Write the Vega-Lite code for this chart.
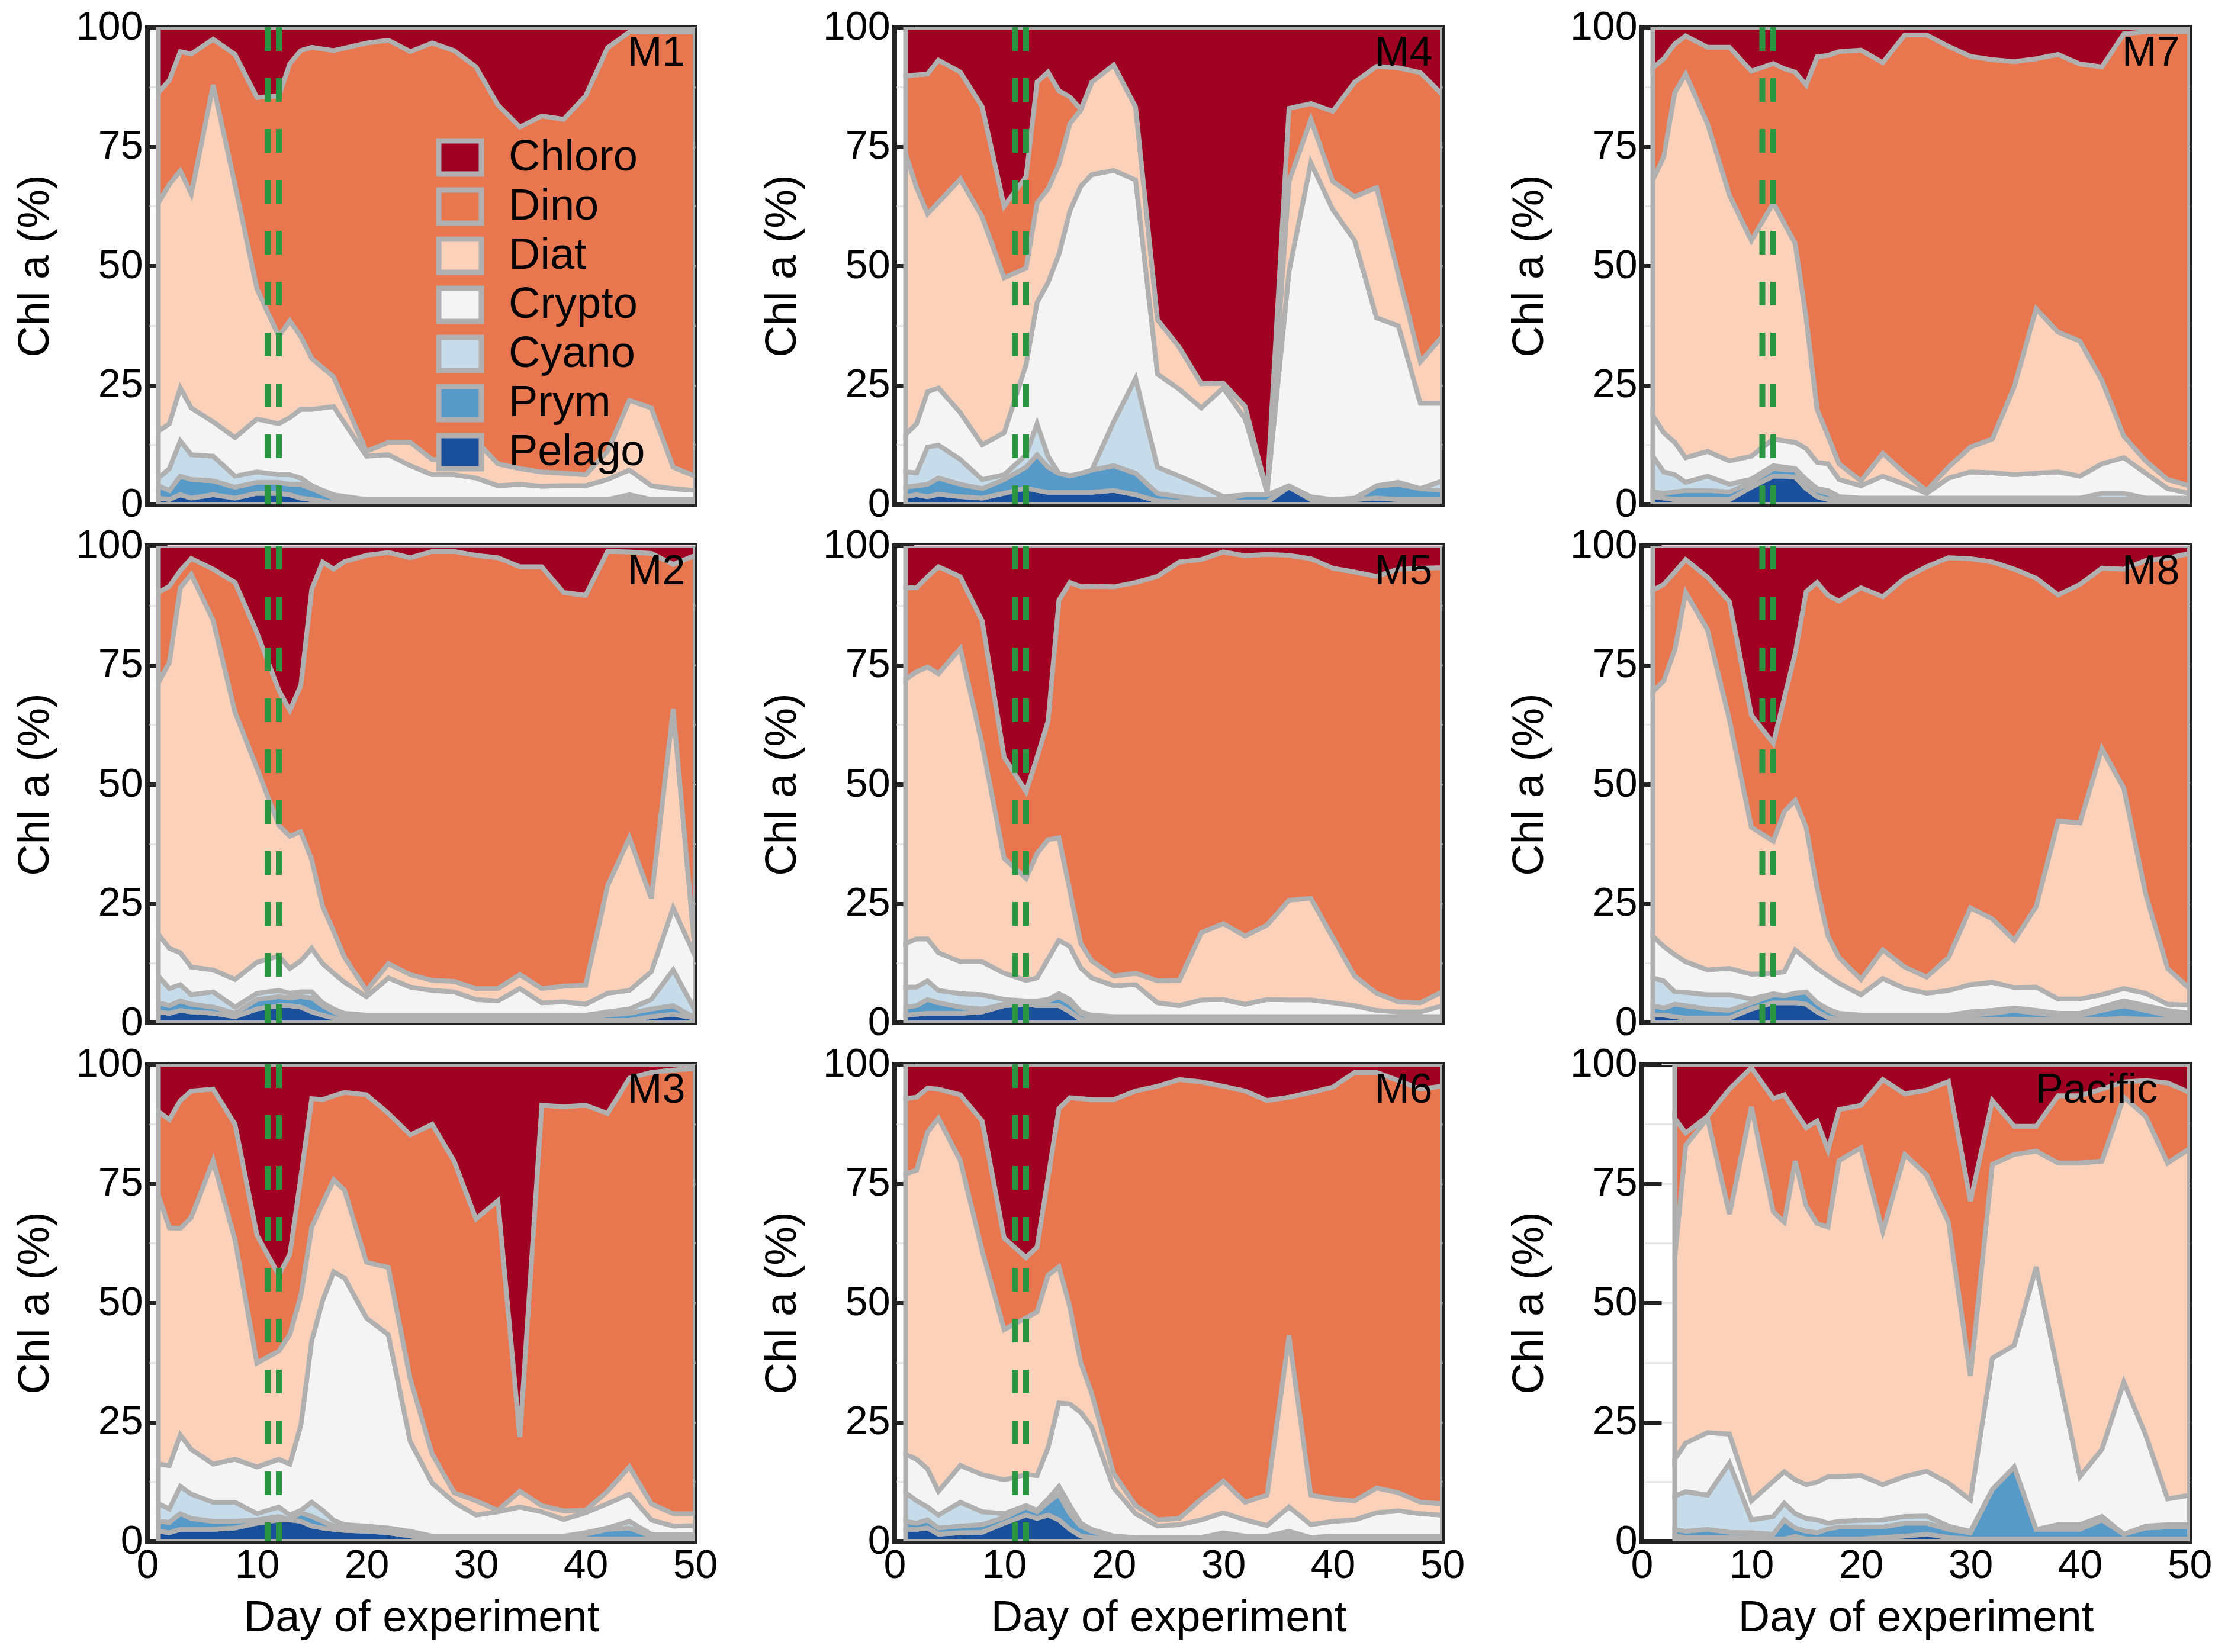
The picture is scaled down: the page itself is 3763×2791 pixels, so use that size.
{
"$schema":"https://vega.github.io/schema/vega-lite/v6.json",
"autosize":{"type":"pad"},
"padding":{"left":18,"top":8,"right":10,"bottom":10},
"background":"white",
"config":{
"font":"Liberation Sans",
"view":{"stroke":"#222222","strokeWidth":8},
"axis":{"labelFont":"Liberation Sans","titleFont":"Liberation Sans","labelColor":"#000000","titleColor":"#000000","labelFontSize":68,"titleFontSize":74,"titleFontWeight":"normal","domain":true,"domainColor":"#222222","domainWidth":6,"grid":false,"tickColor":"#222222","tickWidth":7,"tickSize":-33,"zindex":1,"labelFlush":false,"labelOverlap":false}
},
"datasets":{
"groups":[{"group":"Pelago","rank":1},{"group":"Prym","rank":2},{"group":"Cyano","rank":3},{"group":"Crypto","rank":4},{"group":"Diat","rank":5},{"group":"Dino","rank":6},{"group":"Chloro","rank":7}],
"chl":[
{"panel":"M1","day":1,"Pelago":1.3,"Prym":2.6,"Cyano":1.6,"Crypto":9.8,"Diat":47.9,"Dino":23.1,"Chloro":13.7},
{"panel":"M1","day":2,"Pelago":1.0,"Prym":1.9,"Cyano":4.6,"Crypto":9.4,"Diat":50.2,"Dino":21.8,"Chloro":11.1},
{"panel":"M1","day":3,"Pelago":2.0,"Prym":3.9,"Cyano":7.4,"Crypto":11.1,"Diat":45.5,"Dino":25.0,"Chloro":5.1},
{"panel":"M1","day":4,"Pelago":1.3,"Prym":3.9,"Cyano":5.2,"Crypto":9.8,"Diat":44.9,"Dino":29.3,"Chloro":5.6},
{"panel":"M1","day":6,"Pelago":2.0,"Prym":2.9,"Cyano":5.2,"Crypto":7.2,"Diat":70.6,"Dino":9.6,"Chloro":2.5},
{"panel":"M1","day":8,"Pelago":1.3,"Prym":2.3,"Cyano":2.3,"Crypto":8.1,"Diat":53.0,"Dino":27.3,"Chloro":5.7},
{"panel":"M1","day":10,"Pelago":2.3,"Prym":2.3,"Cyano":2.2,"Crypto":11.1,"Diat":27.3,"Dino":40.1,"Chloro":14.7},
{"panel":"M1","day":12,"Pelago":2.3,"Prym":2.3,"Cyano":1.6,"Crypto":10.7,"Diat":18.3,"Dino":50.4,"Chloro":14.4},
{"panel":"M1","day":13,"Pelago":2.0,"Prym":2.2,"Cyano":2.0,"Crypto":12.0,"Diat":20.3,"Dino":53.9,"Chloro":7.6},
{"panel":"M1","day":14,"Pelago":1.3,"Prym":2.9,"Cyano":1.3,"Crypto":14.4,"Diat":15.3,"Dino":59.9,"Chloro":4.9},
{"panel":"M1","day":15,"Pelago":1.0,"Prym":2.3,"Cyano":0.6,"Crypto":16.0,"Diat":10.7,"Dino":65.2,"Chloro":4.2},
{"panel":"M1","day":17,"Pelago":0.3,"Prym":1.0,"Cyano":0.7,"Crypto":18.5,"Diat":6.2,"Dino":68.4,"Chloro":4.9},
{"panel":"M1","day":20,"Pelago":0.2,"Prym":0.5,"Cyano":0.3,"Crypto":9.1,"Diat":1.0,"Dino":85.6,"Chloro":3.3},
{"panel":"M1","day":22,"Pelago":0.2,"Prym":0.5,"Cyano":0.3,"Crypto":9.4,"Diat":2.6,"Dino":84.3,"Chloro":2.7},
{"panel":"M1","day":24,"Pelago":0.2,"Prym":0.5,"Cyano":0.3,"Crypto":7.1,"Diat":4.9,"Dino":81.9,"Chloro":5.1},
{"panel":"M1","day":26,"Pelago":0.2,"Prym":0.5,"Cyano":0.3,"Crypto":5.2,"Diat":3.2,"Dino":87.3,"Chloro":3.3},
{"panel":"M1","day":28,"Pelago":0.2,"Prym":0.5,"Cyano":0.3,"Crypto":5.2,"Diat":3.2,"Dino":85.7,"Chloro":4.9},
{"panel":"M1","day":30,"Pelago":0.2,"Prym":0.5,"Cyano":0.3,"Crypto":4.5,"Diat":7.8,"Dino":78.4,"Chloro":8.3},
{"panel":"M1","day":32,"Pelago":0.2,"Prym":0.5,"Cyano":0.3,"Crypto":2.9,"Diat":4.6,"Dino":75.2,"Chloro":16.3},
{"panel":"M1","day":34,"Pelago":0.2,"Prym":0.5,"Cyano":0.3,"Crypto":3.2,"Diat":3.3,"Dino":71.6,"Chloro":20.9},
{"panel":"M1","day":36,"Pelago":0.2,"Prym":0.5,"Cyano":0.3,"Crypto":2.8,"Diat":3.0,"Dino":74.6,"Chloro":18.6},
{"panel":"M1","day":38,"Pelago":0.2,"Prym":0.5,"Cyano":0.3,"Crypto":2.9,"Diat":2.6,"Dino":74.2,"Chloro":19.3},
{"panel":"M1","day":40,"Pelago":0.2,"Prym":0.5,"Cyano":0.3,"Crypto":2.9,"Diat":2.3,"Dino":79.4,"Chloro":14.4},
{"panel":"M1","day":42,"Pelago":0.2,"Prym":0.5,"Cyano":0.3,"Crypto":4.2,"Diat":5.9,"Dino":84.6,"Chloro":4.3},
{"panel":"M1","day":44,"Pelago":0.3,"Prym":0.7,"Cyano":1.0,"Crypto":5.2,"Diat":14.6,"Dino":77.2,"Chloro":1.0},
{"panel":"M1","day":46,"Pelago":0.2,"Prym":0.5,"Cyano":0.3,"Crypto":2.9,"Diat":16.3,"Dino":78.8,"Chloro":1.0},
{"panel":"M1","day":48,"Pelago":0.2,"Prym":0.5,"Cyano":0.3,"Crypto":2.3,"Diat":4.5,"Dino":91.2,"Chloro":1.0},
{"panel":"M1","day":50,"Pelago":0.2,"Prym":0.5,"Cyano":0.3,"Crypto":1.9,"Diat":3.0,"Dino":93.1,"Chloro":1.0},
{"panel":"M4","day":1,"Pelago":1.6,"Prym":2.0,"Cyano":3.2,"Crypto":7.8,"Diat":59.0,"Dino":16.2,"Chloro":10.2},
{"panel":"M4","day":2,"Pelago":2.0,"Prym":1.9,"Cyano":2.7,"Crypto":10.3,"Diat":49.5,"Dino":23.6,"Chloro":10.0},
{"panel":"M4","day":3,"Pelago":1.6,"Prym":2.6,"Cyano":7.8,"Crypto":11.6,"Diat":37.3,"Dino":29.3,"Chloro":9.8},
{"panel":"M4","day":4,"Pelago":2.1,"Prym":3.4,"Cyano":6.9,"Crypto":12.0,"Diat":38.9,"Dino":29.8,"Chloro":6.9},
{"panel":"M4","day":6,"Pelago":1.6,"Prym":2.6,"Cyano":5.2,"Crypto":9.8,"Diat":49.0,"Dino":22.4,"Chloro":9.4},
{"panel":"M4","day":8,"Pelago":1.3,"Prym":2.0,"Cyano":1.9,"Crypto":7.3,"Diat":47.7,"Dino":23.1,"Chloro":16.7},
{"panel":"M4","day":10,"Pelago":2.3,"Prym":2.9,"Cyano":1.0,"Crypto":8.8,"Diat":32.5,"Dino":15.0,"Chloro":37.5},
{"panel":"M4","day":12,"Pelago":3.4,"Prym":4.4,"Cyano":2.6,"Crypto":18.9,"Diat":20.2,"Dino":19.2,"Chloro":31.3},
{"panel":"M4","day":13,"Pelago":2.9,"Prym":7.5,"Cyano":6.5,"Crypto":25.4,"Diat":20.9,"Dino":25.3,"Chloro":11.5},
{"panel":"M4","day":14,"Pelago":2.5,"Prym":5.3,"Cyano":2.3,"Crypto":36.4,"Diat":19.6,"Dino":24.5,"Chloro":9.4},
{"panel":"M4","day":15,"Pelago":2.5,"Prym":4.0,"Cyano":0.0,"Crypto":45.9,"Diat":18.9,"Dino":15.4,"Chloro":13.3},
{"panel":"M4","day":16,"Pelago":2.5,"Prym":3.4,"Cyano":0.1,"Crypto":55.5,"Diat":18.3,"Dino":5.6,"Chloro":14.6},
{"panel":"M4","day":17,"Pelago":2.5,"Prym":4.0,"Cyano":0.0,"Crypto":60.2,"Diat":16.0,"Dino":0.1,"Chloro":17.2},
{"panel":"M4","day":18,"Pelago":2.5,"Prym":4.7,"Cyano":0.0,"Crypto":61.9,"Diat":19.4,"Dino":0.0,"Chloro":11.5},
{"panel":"M4","day":20,"Pelago":2.9,"Prym":5.2,"Cyano":9.2,"Crypto":52.7,"Diat":22.1,"Dino":0.0,"Chloro":7.9},
{"panel":"M4","day":22,"Pelago":2.0,"Prym":4.5,"Cyano":19.9,"Crypto":41.6,"Diat":15.3,"Dino":0.0,"Chloro":16.7},
{"panel":"M4","day":24,"Pelago":0.7,"Prym":1.6,"Cyano":5.5,"Crypto":19.5,"Diat":11.4,"Dino":0.0,"Chloro":61.3},
{"panel":"M4","day":26,"Pelago":0.5,"Prym":1.1,"Cyano":4.3,"Crypto":18.2,"Diat":8.8,"Dino":0.0,"Chloro":67.1},
{"panel":"M4","day":28,"Pelago":0.5,"Prym":0.5,"Cyano":2.9,"Crypto":16.3,"Diat":5.1,"Dino":0.0,"Chloro":74.7},
{"panel":"M4","day":30,"Pelago":0.5,"Prym":0.5,"Cyano":0.6,"Crypto":22.8,"Diat":1.0,"Dino":0.0,"Chloro":74.6},
{"panel":"M4","day":32,"Pelago":0.5,"Prym":1.5,"Cyano":0.0,"Crypto":15.9,"Diat":2.6,"Dino":0.0,"Chloro":79.5},
{"panel":"M4","day":34,"Pelago":0.5,"Prym":1.5,"Cyano":0.0,"Crypto":0.6,"Diat":0.0,"Dino":0.0,"Chloro":97.4},
{"panel":"M4","day":36,"Pelago":3.6,"Prym":0.3,"Cyano":0.0,"Crypto":44.9,"Diat":18.9,"Dino":15.3,"Chloro":17.0},
{"panel":"M4","day":38,"Pelago":1.0,"Prym":0.6,"Cyano":0.0,"Crypto":70.0,"Diat":9.1,"Dino":3.3,"Chloro":16.0},
{"panel":"M4","day":40,"Pelago":0.5,"Prym":0.5,"Cyano":0.0,"Crypto":60.8,"Diat":5.9,"Dino":14.7,"Chloro":17.6},
{"panel":"M4","day":42,"Pelago":1.0,"Prym":0.0,"Cyano":0.3,"Crypto":54.0,"Diat":9.2,"Dino":24.0,"Chloro":11.5},
{"panel":"M4","day":44,"Pelago":1.3,"Prym":2.6,"Cyano":0.0,"Crypto":35.2,"Diat":27.3,"Dino":25.4,"Chloro":8.2},
{"panel":"M4","day":46,"Pelago":1.0,"Prym":3.2,"Cyano":0.4,"Crypto":32.8,"Diat":10.8,"Dino":43.3,"Chloro":8.5},
{"panel":"M4","day":48,"Pelago":1.0,"Prym":2.3,"Cyano":0.0,"Crypto":17.9,"Diat":8.7,"Dino":60.6,"Chloro":9.5},
{"panel":"M4","day":50,"Pelago":1.0,"Prym":1.9,"Cyano":2.0,"Crypto":16.3,"Diat":14.0,"Dino":50.7,"Chloro":14.1},
{"panel":"M7","day":1,"Pelago":1.6,"Prym":1.0,"Cyano":7.5,"Crypto":8.5,"Diat":49.4,"Dino":23.5,"Chloro":8.5},
{"panel":"M7","day":2,"Pelago":1.3,"Prym":1.0,"Cyano":4.5,"Crypto":8.2,"Diat":57.9,"Dino":20.5,"Chloro":6.6},
{"panel":"M7","day":3,"Pelago":1.0,"Prym":1.6,"Cyano":3.6,"Crypto":6.8,"Diat":73.3,"Dino":10.2,"Chloro":3.5},
{"panel":"M7","day":4,"Pelago":1.0,"Prym":1.9,"Cyano":1.7,"Crypto":5.2,"Diat":80.4,"Dino":8.0,"Chloro":1.8},
{"panel":"M7","day":6,"Pelago":1.0,"Prym":1.9,"Cyano":3.0,"Crypto":5.2,"Diat":68.7,"Dino":16.0,"Chloro":4.2},
{"panel":"M7","day":8,"Pelago":1.0,"Prym":1.6,"Cyano":1.6,"Crypto":4.9,"Diat":55.7,"Dino":31.0,"Chloro":4.2},
{"panel":"M7","day":10,"Pelago":3.6,"Prym":1.0,"Cyano":0.7,"Crypto":4.8,"Diat":45.2,"Dino":35.5,"Chloro":9.2},
{"panel":"M7","day":12,"Pelago":5.9,"Prym":1.6,"Cyano":0.6,"Crypto":5.6,"Diat":49.5,"Dino":29.2,"Chloro":7.6},
{"panel":"M7","day":13,"Pelago":5.9,"Prym":1.4,"Cyano":0.5,"Crypto":5.5,"Diat":45.6,"Dino":32.4,"Chloro":8.7},
{"panel":"M7","day":14,"Pelago":5.7,"Prym":1.5,"Cyano":0.3,"Crypto":5.5,"Diat":41.7,"Dino":35.9,"Chloro":9.4},
{"panel":"M7","day":15,"Pelago":3.3,"Prym":1.3,"Cyano":0.6,"Crypto":6.5,"Diat":27.4,"Dino":48.8,"Chloro":12.1},
{"panel":"M7","day":16,"Pelago":1.6,"Prym":1.3,"Cyano":0.4,"Crypto":5.5,"Diat":11.1,"Dino":73.9,"Chloro":6.2},
{"panel":"M7","day":17,"Pelago":1.0,"Prym":1.3,"Cyano":0.6,"Crypto":5.6,"Diat":5.8,"Dino":79.8,"Chloro":5.9},
{"panel":"M7","day":18,"Pelago":0.5,"Prym":0.5,"Cyano":0.6,"Crypto":3.6,"Diat":3.3,"Dino":86.4,"Chloro":5.1},
{"panel":"M7","day":20,"Pelago":0.5,"Prym":0.5,"Cyano":0.3,"Crypto":2.6,"Diat":1.0,"Dino":90.3,"Chloro":4.8},
{"panel":"M7","day":22,"Pelago":0.5,"Prym":0.5,"Cyano":0.3,"Crypto":4.6,"Diat":4.8,"Dino":81.9,"Chloro":7.4},
{"panel":"M7","day":24,"Pelago":0.5,"Prym":0.5,"Cyano":0.3,"Crypto":2.9,"Diat":2.3,"Dino":91.9,"Chloro":1.6},
{"panel":"M7","day":26,"Pelago":0.5,"Prym":0.5,"Cyano":0.3,"Crypto":1.0,"Diat":0.6,"Dino":95.5,"Chloro":1.6},
{"panel":"M7","day":28,"Pelago":0.5,"Prym":0.5,"Cyano":0.3,"Crypto":4.2,"Diat":2.3,"Dino":88.2,"Chloro":4.0},
{"panel":"M7","day":30,"Pelago":0.5,"Prym":0.5,"Cyano":0.3,"Crypto":5.5,"Diat":5.2,"Dino":81.9,"Chloro":6.1},
{"panel":"M7","day":32,"Pelago":0.5,"Prym":0.5,"Cyano":0.3,"Crypto":5.3,"Diat":7.1,"Dino":79.5,"Chloro":6.8},
{"panel":"M7","day":34,"Pelago":0.5,"Prym":0.5,"Cyano":0.3,"Crypto":4.9,"Diat":18.5,"Dino":68.1,"Chloro":7.2},
{"panel":"M7","day":36,"Pelago":0.5,"Prym":0.5,"Cyano":0.3,"Crypto":5.2,"Diat":34.5,"Dino":52.4,"Chloro":6.6},
{"panel":"M7","day":38,"Pelago":0.5,"Prym":0.5,"Cyano":0.3,"Crypto":5.5,"Diat":29.3,"Dino":58.2,"Chloro":5.7},
{"panel":"M7","day":40,"Pelago":0.5,"Prym":0.5,"Cyano":0.3,"Crypto":4.6,"Diat":28.3,"Dino":58.1,"Chloro":7.7},
{"panel":"M7","day":42,"Pelago":0.5,"Prym":0.5,"Cyano":1.3,"Crypto":6.2,"Diat":17.5,"Dino":65.7,"Chloro":8.3},
{"panel":"M7","day":44,"Pelago":0.5,"Prym":0.5,"Cyano":1.3,"Crypto":7.5,"Diat":4.5,"Dino":84.3,"Chloro":1.4},
{"panel":"M7","day":46,"Pelago":0.5,"Prym":0.5,"Cyano":0.3,"Crypto":5.2,"Diat":2.6,"Dino":90.0,"Chloro":0.9},
{"panel":"M7","day":48,"Pelago":0.5,"Prym":0.5,"Cyano":0.3,"Crypto":2.0,"Diat":1.9,"Dino":93.9,"Chloro":0.9},
{"panel":"M7","day":50,"Pelago":0.5,"Prym":0.5,"Cyano":0.3,"Crypto":1.0,"Diat":1.6,"Dino":95.2,"Chloro":0.9},
{"panel":"M2","day":1,"Pelago":2.3,"Prym":1.9,"Cyano":5.6,"Crypto":8.8,"Diat":52.7,"Dino":18.9,"Chloro":9.8},
{"panel":"M2","day":2,"Pelago":2.0,"Prym":1.6,"Cyano":3.6,"Crypto":8.4,"Diat":60.0,"Dino":15.9,"Chloro":8.5},
{"panel":"M2","day":3,"Pelago":2.6,"Prym":2.0,"Cyano":3.4,"Crypto":6.7,"Diat":76.5,"Dino":3.6,"Chloro":5.2},
{"panel":"M2","day":4,"Pelago":2.3,"Prym":1.6,"Cyano":2.0,"Crypto":5.8,"Diat":82.3,"Dino":3.3,"Chloro":2.7},
{"panel":"M2","day":6,"Pelago":2.0,"Prym":1.3,"Cyano":3.2,"Crypto":4.6,"Diat":73.3,"Dino":10.7,"Chloro":4.9},
{"panel":"M2","day":8,"Pelago":1.3,"Prym":0.7,"Cyano":1.3,"Crypto":5.8,"Diat":56.0,"Dino":27.2,"Chloro":7.7},
{"panel":"M2","day":10,"Pelago":2.9,"Prym":2.0,"Cyano":1.3,"Crypto":6.5,"Diat":40.7,"Dino":28.4,"Chloro":18.2},
{"panel":"M2","day":12,"Pelago":3.6,"Prym":1.9,"Cyano":1.3,"Crypto":7.2,"Diat":27.4,"Dino":28.3,"Chloro":30.3},
{"panel":"M2","day":13,"Pelago":3.6,"Prym":1.6,"Cyano":1.0,"Crypto":5.2,"Diat":27.7,"Dino":26.4,"Chloro":34.5},
{"panel":"M2","day":14,"Pelago":3.3,"Prym":2.2,"Cyano":1.0,"Crypto":6.5,"Diat":27.1,"Dino":30.6,"Chloro":29.3},
{"panel":"M2","day":15,"Pelago":2.3,"Prym":2.9,"Cyano":1.3,"Crypto":9.1,"Diat":18.6,"Dino":56.7,"Chloro":9.1},
{"panel":"M2","day":16,"Pelago":1.6,"Prym":2.0,"Cyano":0.6,"Crypto":8.2,"Diat":12.0,"Dino":72.2,"Chloro":3.4},
{"panel":"M2","day":17,"Pelago":1.0,"Prym":1.3,"Cyano":0.6,"Crypto":7.5,"Diat":8.8,"Dino":75.9,"Chloro":4.9},
{"panel":"M2","day":18,"Pelago":0.5,"Prym":0.8,"Cyano":0.7,"Crypto":6.5,"Diat":5.2,"Dino":83.0,"Chloro":3.3},
{"panel":"M2","day":20,"Pelago":0.5,"Prym":0.8,"Cyano":0.3,"Crypto":3.9,"Diat":1.3,"Dino":91.2,"Chloro":2.0},
{"panel":"M2","day":22,"Pelago":0.5,"Prym":0.8,"Cyano":0.3,"Crypto":7.8,"Diat":3.0,"Dino":86.2,"Chloro":1.4},
{"panel":"M2","day":24,"Pelago":0.5,"Prym":0.8,"Cyano":0.3,"Crypto":5.9,"Diat":2.6,"Dino":87.4,"Chloro":2.5},
{"panel":"M2","day":26,"Pelago":0.5,"Prym":0.8,"Cyano":0.3,"Crypto":5.2,"Diat":2.1,"Dino":89.9,"Chloro":1.2},
{"panel":"M2","day":28,"Pelago":0.5,"Prym":0.8,"Cyano":0.3,"Crypto":4.9,"Diat":2.2,"Dino":90.1,"Chloro":1.2},
{"panel":"M2","day":30,"Pelago":0.5,"Prym":0.8,"Cyano":0.3,"Crypto":3.3,"Diat":2.3,"Dino":90.8,"Chloro":2.0},
{"panel":"M2","day":32,"Pelago":0.5,"Prym":0.8,"Cyano":0.3,"Crypto":3.0,"Diat":2.6,"Dino":90.3,"Chloro":2.5},
{"panel":"M2","day":34,"Pelago":0.5,"Prym":0.8,"Cyano":0.3,"Crypto":5.6,"Diat":2.9,"Dino":85.5,"Chloro":4.4},
{"panel":"M2","day":36,"Pelago":0.5,"Prym":0.8,"Cyano":0.3,"Crypto":2.6,"Diat":3.0,"Dino":88.4,"Chloro":4.4},
{"panel":"M2","day":38,"Pelago":0.5,"Prym":0.8,"Cyano":0.3,"Crypto":2.8,"Diat":3.3,"Dino":82.5,"Chloro":9.8},
{"panel":"M2","day":40,"Pelago":0.5,"Prym":0.8,"Cyano":0.3,"Crypto":2.3,"Diat":4.0,"Dino":81.7,"Chloro":10.4},
{"panel":"M2","day":42,"Pelago":0.5,"Prym":1.1,"Cyano":0.7,"Crypto":3.9,"Diat":22.5,"Dino":70.1,"Chloro":1.2},
{"panel":"M2","day":44,"Pelago":0.5,"Prym":1.5,"Cyano":0.9,"Crypto":3.9,"Diat":32.0,"Dino":59.9,"Chloro":1.3},
{"panel":"M2","day":46,"Pelago":1.3,"Prym":1.6,"Cyano":2.0,"Crypto":5.8,"Diat":15.4,"Dino":72.3,"Chloro":1.6},
{"panel":"M2","day":48,"Pelago":1.8,"Prym":1.8,"Cyano":7.5,"Crypto":13.0,"Diat":41.7,"Dino":30.3,"Chloro":3.9},
{"panel":"M2","day":50,"Pelago":1.0,"Prym":0.0,"Cyano":1.6,"Crypto":11.4,"Diat":0.7,"Dino":83.3,"Chloro":2.0},
{"panel":"M5","day":1,"Pelago":1.6,"Prym":1.7,"Cyano":4.2,"Crypto":9.1,"Diat":55.4,"Dino":19.2,"Chloro":8.8},
{"panel":"M5","day":2,"Pelago":1.8,"Prym":1.8,"Cyano":3.9,"Crypto":10.1,"Diat":56.0,"Dino":17.6,"Chloro":8.8},
{"panel":"M5","day":3,"Pelago":2.0,"Prym":2.9,"Cyano":3.9,"Crypto":8.8,"Diat":57.0,"Dino":18.9,"Chloro":6.5},
{"panel":"M5","day":4,"Pelago":2.0,"Prym":2.2,"Cyano":2.6,"Crypto":7.9,"Diat":58.5,"Dino":22.4,"Chloro":4.4},
{"panel":"M5","day":6,"Pelago":2.0,"Prym":1.3,"Cyano":2.8,"Crypto":6.7,"Diat":65.7,"Dino":15.0,"Chloro":6.5},
{"panel":"M5","day":8,"Pelago":2.3,"Prym":0.6,"Cyano":3.0,"Crypto":6.9,"Diat":45.5,"Dino":25.9,"Chloro":15.8},
{"panel":"M5","day":10,"Pelago":3.6,"Prym":0.3,"Cyano":1.0,"Crypto":5.5,"Diat":24.1,"Dino":21.2,"Chloro":44.3},
{"panel":"M5","day":12,"Pelago":3.9,"Prym":0.3,"Cyano":0.4,"Crypto":4.3,"Diat":21.4,"Dino":18.2,"Chloro":51.5},
{"panel":"M5","day":13,"Pelago":3.6,"Prym":0.6,"Cyano":0.4,"Crypto":4.8,"Diat":26.1,"Dino":20.2,"Chloro":44.3},
{"panel":"M5","day":14,"Pelago":3.6,"Prym":1.0,"Cyano":0.3,"Crypto":8.5,"Diat":25.0,"Dino":24.8,"Chloro":36.8},
{"panel":"M5","day":15,"Pelago":3.6,"Prym":1.9,"Cyano":0.6,"Crypto":11.2,"Diat":21.5,"Dino":49.8,"Chloro":11.4},
{"panel":"M5","day":16,"Pelago":2.3,"Prym":1.9,"Cyano":0.7,"Crypto":11.1,"Diat":11.7,"Dino":64.6,"Chloro":7.7},
{"panel":"M5","day":17,"Pelago":0.7,"Prym":1.3,"Cyano":0.3,"Crypto":9.2,"Diat":5.1,"Dino":74.8,"Chloro":8.6},
{"panel":"M5","day":18,"Pelago":0.3,"Prym":0.7,"Cyano":0.6,"Crypto":7.8,"Diat":3.6,"Dino":78.5,"Chloro":8.5},
{"panel":"M5","day":20,"Pelago":0.3,"Prym":0.7,"Cyano":0.3,"Crypto":6.5,"Diat":2.0,"Dino":81.6,"Chloro":8.6},
{"panel":"M5","day":22,"Pelago":0.3,"Prym":0.7,"Cyano":0.3,"Crypto":6.7,"Diat":2.4,"Dino":81.9,"Chloro":7.7},
{"panel":"M5","day":24,"Pelago":0.3,"Prym":0.7,"Cyano":0.3,"Crypto":2.9,"Diat":4.6,"Dino":84.8,"Chloro":6.4},
{"panel":"M5","day":26,"Pelago":0.3,"Prym":0.7,"Cyano":0.3,"Crypto":2.3,"Diat":5.3,"Dino":87.7,"Chloro":3.4},
{"panel":"M5","day":28,"Pelago":0.3,"Prym":0.7,"Cyano":0.3,"Crypto":3.5,"Diat":14.1,"Dino":78.2,"Chloro":2.9},
{"panel":"M5","day":30,"Pelago":0.3,"Prym":0.7,"Cyano":0.3,"Crypto":3.6,"Diat":15.9,"Dino":77.9,"Chloro":1.3},
{"panel":"M5","day":32,"Pelago":0.3,"Prym":0.7,"Cyano":0.3,"Crypto":2.6,"Diat":14.3,"Dino":79.7,"Chloro":2.1},
{"panel":"M5","day":34,"Pelago":0.3,"Prym":0.7,"Cyano":0.3,"Crypto":3.6,"Diat":15.6,"Dino":77.7,"Chloro":1.8},
{"panel":"M5","day":36,"Pelago":0.3,"Prym":0.7,"Cyano":0.3,"Crypto":3.5,"Diat":20.9,"Dino":72.3,"Chloro":2.0},
{"panel":"M5","day":38,"Pelago":0.3,"Prym":0.7,"Cyano":0.3,"Crypto":3.5,"Diat":21.3,"Dino":71.2,"Chloro":2.7},
{"panel":"M5","day":40,"Pelago":0.3,"Prym":0.7,"Cyano":0.3,"Crypto":2.9,"Diat":13.7,"Dino":77.4,"Chloro":4.7},
{"panel":"M5","day":42,"Pelago":0.3,"Prym":0.7,"Cyano":0.3,"Crypto":2.3,"Diat":6.2,"Dino":84.7,"Chloro":5.5},
{"panel":"M5","day":44,"Pelago":0.3,"Prym":0.7,"Cyano":0.3,"Crypto":1.3,"Diat":3.6,"Dino":87.4,"Chloro":6.4},
{"panel":"M5","day":46,"Pelago":0.3,"Prym":0.7,"Cyano":0.3,"Crypto":1.0,"Diat":2.1,"Dino":90.7,"Chloro":4.9},
{"panel":"M5","day":48,"Pelago":0.3,"Prym":0.7,"Cyano":0.3,"Crypto":1.0,"Diat":1.9,"Dino":91.1,"Chloro":4.7},
{"panel":"M5","day":50,"Pelago":0.3,"Prym":0.7,"Cyano":0.3,"Crypto":2.3,"Diat":2.9,"Dino":88.9,"Chloro":4.6},
{"panel":"M8","day":1,"Pelago":1.6,"Prym":2.0,"Cyano":5.8,"Crypto":8.8,"Diat":51.2,"Dino":21.3,"Chloro":9.3},
{"panel":"M8","day":2,"Pelago":1.6,"Prym":1.5,"Cyano":5.7,"Crypto":7.2,"Diat":55.7,"Dino":20.2,"Chloro":8.1},
{"panel":"M8","day":3,"Pelago":1.3,"Prym":2.6,"Cyano":2.6,"Crypto":7.8,"Diat":63.9,"Dino":16.3,"Chloro":5.5},
{"panel":"M8","day":4,"Pelago":1.0,"Prym":2.6,"Cyano":2.8,"Crypto":6.4,"Diat":77.4,"Dino":6.9,"Chloro":2.9},
{"panel":"M8","day":6,"Pelago":1.0,"Prym":1.9,"Cyano":3.0,"Crypto":5.2,"Diat":71.3,"Dino":11.0,"Chloro":6.6},
{"panel":"M8","day":8,"Pelago":1.0,"Prym":1.6,"Cyano":3.3,"Crypto":5.5,"Diat":52.1,"Dino":24.8,"Chloro":11.7},
{"panel":"M8","day":10,"Pelago":2.9,"Prym":1.3,"Cyano":0.8,"Crypto":5.2,"Diat":30.8,"Dino":23.5,"Chloro":35.5},
{"panel":"M8","day":12,"Pelago":4.2,"Prym":1.7,"Cyano":0.2,"Crypto":4.3,"Diat":27.7,"Dino":20.5,"Chloro":41.4},
{"panel":"M8","day":13,"Pelago":4.2,"Prym":1.5,"Cyano":0.0,"Crypto":5.0,"Diat":33.6,"Dino":23.8,"Chloro":31.9},
{"panel":"M8","day":14,"Pelago":4.2,"Prym":2.0,"Cyano":0.0,"Crypto":9.1,"Diat":31.3,"Dino":30.9,"Chloro":22.5},
{"panel":"M8","day":15,"Pelago":3.9,"Prym":2.6,"Cyano":0.0,"Crypto":6.9,"Diat":27.6,"Dino":49.4,"Chloro":9.6},
{"panel":"M8","day":16,"Pelago":2.3,"Prym":1.9,"Cyano":0.0,"Crypto":7.2,"Diat":16.9,"Dino":64.0,"Chloro":7.7},
{"panel":"M8","day":17,"Pelago":1.1,"Prym":1.5,"Cyano":0.3,"Crypto":6.9,"Diat":8.4,"Dino":71.4,"Chloro":10.4},
{"panel":"M8","day":18,"Pelago":0.7,"Prym":0.9,"Cyano":0.4,"Crypto":6.3,"Diat":5.4,"Dino":74.7,"Chloro":11.6},
{"panel":"M8","day":20,"Pelago":0.7,"Prym":0.9,"Cyano":0.0,"Crypto":4.3,"Diat":3.2,"Dino":82.1,"Chloro":8.8},
{"panel":"M8","day":22,"Pelago":0.7,"Prym":0.9,"Cyano":0.0,"Crypto":7.7,"Diat":6.0,"Dino":74.0,"Chloro":10.7},
{"panel":"M8","day":24,"Pelago":0.7,"Prym":0.9,"Cyano":0.0,"Crypto":5.6,"Diat":4.5,"Dino":81.5,"Chloro":6.8},
{"panel":"M8","day":26,"Pelago":0.7,"Prym":0.9,"Cyano":0.0,"Crypto":4.6,"Diat":3.4,"Dino":86.0,"Chloro":4.4},
{"panel":"M8","day":28,"Pelago":0.7,"Prym":0.9,"Cyano":0.0,"Crypto":5.2,"Diat":6.9,"Dino":83.8,"Chloro":2.5},
{"panel":"M8","day":30,"Pelago":0.7,"Prym":0.9,"Cyano":0.7,"Crypto":5.7,"Diat":16.1,"Dino":73.2,"Chloro":2.7},
{"panel":"M8","day":32,"Pelago":0.7,"Prym":1.3,"Cyano":0.6,"Crypto":5.9,"Diat":13.3,"Dino":74.8,"Chloro":3.4},
{"panel":"M8","day":34,"Pelago":0.7,"Prym":1.9,"Cyano":0.5,"Crypto":4.3,"Diat":9.9,"Dino":77.8,"Chloro":4.9},
{"panel":"M8","day":36,"Pelago":0.7,"Prym":1.3,"Cyano":0.6,"Crypto":4.9,"Diat":16.9,"Dino":68.8,"Chloro":6.8},
{"panel":"M8","day":38,"Pelago":0.7,"Prym":0.9,"Cyano":0.4,"Crypto":3.0,"Diat":37.3,"Dino":47.4,"Chloro":10.3},
{"panel":"M8","day":40,"Pelago":0.7,"Prym":0.9,"Cyano":0.4,"Crypto":3.0,"Diat":36.9,"Dino":50.0,"Chloro":8.1},
{"panel":"M8","day":42,"Pelago":0.7,"Prym":1.9,"Cyano":0.7,"Crypto":2.6,"Diat":51.6,"Dino":37.8,"Chloro":4.7},
{"panel":"M8","day":44,"Pelago":1.0,"Prym":2.6,"Cyano":1.0,"Crypto":2.6,"Diat":42.0,"Dino":45.9,"Chloro":4.9},
{"panel":"M8","day":46,"Pelago":0.7,"Prym":1.9,"Cyano":1.0,"Crypto":2.6,"Diat":20.8,"Dino":69.9,"Chloro":3.1},
{"panel":"M8","day":48,"Pelago":0.7,"Prym":0.9,"Cyano":1.0,"Crypto":1.3,"Diat":7.5,"Dino":86.0,"Chloro":2.6},
{"panel":"M8","day":50,"Pelago":0.7,"Prym":0.9,"Cyano":0.4,"Crypto":1.7,"Diat":3.5,"Dino":91.2,"Chloro":1.6},
{"panel":"M3","day":1,"Pelago":2.1,"Prym":2.1,"Cyano":3.7,"Crypto":8.3,"Diat":56.4,"Dino":17.5,"Chloro":9.9},
{"panel":"M3","day":2,"Pelago":1.8,"Prym":2.2,"Cyano":2.8,"Crypto":9.1,"Diat":49.8,"Dino":22.7,"Chloro":11.6},
{"panel":"M3","day":3,"Pelago":2.5,"Prym":3.3,"Cyano":5.7,"Crypto":10.8,"Diat":43.3,"Dino":26.8,"Chloro":7.6},
{"panel":"M3","day":4,"Pelago":2.5,"Prym":2.3,"Cyano":5.1,"Crypto":9.4,"Diat":48.6,"Dino":26.5,"Chloro":5.6},
{"panel":"M3","day":6,"Pelago":2.5,"Prym":1.7,"Cyano":4.0,"Crypto":8.0,"Diat":63.6,"Dino":15.0,"Chloro":5.2},
{"panel":"M3","day":8,"Pelago":2.8,"Prym":1.4,"Cyano":4.0,"Crypto":9.0,"Diat":46.0,"Dino":24.2,"Chloro":12.6},
{"panel":"M3","day":10,"Pelago":3.8,"Prym":0.7,"Cyano":1.3,"Crypto":9.8,"Diat":21.8,"Dino":26.8,"Chloro":35.8},
{"panel":"M3","day":12,"Pelago":4.5,"Prym":0.7,"Cyano":2.0,"Crypto":10.0,"Diat":22.7,"Dino":15.9,"Chloro":44.2},
{"panel":"M3","day":13,"Pelago":4.5,"Prym":0.0,"Cyano":1.0,"Crypto":10.7,"Diat":27.2,"Dino":16.8,"Chloro":39.8},
{"panel":"M3","day":14,"Pelago":4.2,"Prym":1.8,"Cyano":0.5,"Crypto":17.8,"Diat":27.2,"Dino":24.9,"Chloro":23.6},
{"panel":"M3","day":15,"Pelago":3.2,"Prym":2.0,"Cyano":3.0,"Crypto":33.9,"Diat":23.8,"Dino":26.9,"Chloro":7.2},
{"panel":"M3","day":16,"Pelago":2.8,"Prym":1.4,"Cyano":2.3,"Crypto":44.0,"Diat":20.4,"Dino":21.7,"Chloro":7.4},
{"panel":"M3","day":17,"Pelago":2.5,"Prym":0.7,"Cyano":1.2,"Crypto":52.1,"Diat":19.3,"Dino":17.6,"Chloro":6.6},
{"panel":"M3","day":18,"Pelago":2.3,"Prym":0.7,"Cyano":0.5,"Crypto":51.7,"Diat":18.4,"Dino":20.5,"Chloro":5.9},
{"panel":"M3","day":20,"Pelago":2.1,"Prym":0.7,"Cyano":0.4,"Crypto":43.6,"Diat":11.7,"Dino":35.1,"Chloro":6.4},
{"panel":"M3","day":22,"Pelago":1.8,"Prym":0.7,"Cyano":0.3,"Crypto":40.5,"Diat":14.1,"Dino":32.3,"Chloro":10.3},
{"panel":"M3","day":24,"Pelago":1.1,"Prym":0.7,"Cyano":0.3,"Crypto":18.8,"Diat":13.1,"Dino":51.2,"Chloro":14.8},
{"panel":"M3","day":26,"Pelago":0.5,"Prym":0.3,"Cyano":0.3,"Crypto":11.1,"Diat":6.1,"Dino":69.1,"Chloro":12.6},
{"panel":"M3","day":28,"Pelago":0.5,"Prym":0.3,"Cyano":0.3,"Crypto":7.1,"Diat":2.0,"Dino":69.5,"Chloro":20.3},
{"panel":"M3","day":30,"Pelago":0.5,"Prym":0.3,"Cyano":0.3,"Crypto":4.4,"Diat":3.0,"Dino":59.1,"Chloro":32.4},
{"panel":"M3","day":32,"Pelago":0.5,"Prym":0.3,"Cyano":0.3,"Crypto":5.1,"Diat":0.3,"Dino":64.9,"Chloro":28.6},
{"panel":"M3","day":34,"Pelago":0.5,"Prym":0.3,"Cyano":0.3,"Crypto":6.1,"Diat":3.3,"Dino":11.4,"Chloro":78.1},
{"panel":"M3","day":36,"Pelago":0.5,"Prym":0.3,"Cyano":0.3,"Crypto":5.1,"Diat":1.3,"Dino":83.9,"Chloro":8.6},
{"panel":"M3","day":38,"Pelago":0.5,"Prym":0.3,"Cyano":0.3,"Crypto":3.5,"Diat":1.8,"Dino":84.7,"Chloro":8.9},
{"panel":"M3","day":40,"Pelago":0.5,"Prym":1.0,"Cyano":0.3,"Crypto":4.2,"Diat":0.5,"Dino":84.9,"Chloro":8.6},
{"panel":"M3","day":42,"Pelago":0.5,"Prym":2.0,"Cyano":0.3,"Crypto":5.1,"Diat":2.6,"Dino":79.2,"Chloro":10.3},
{"panel":"M3","day":44,"Pelago":0.5,"Prym":2.3,"Cyano":1.4,"Crypto":5.7,"Diat":5.7,"Dino":81.5,"Chloro":2.9},
{"panel":"M3","day":46,"Pelago":0.5,"Prym":0.6,"Cyano":0.4,"Crypto":3.0,"Diat":3.4,"Dino":90.4,"Chloro":1.7},
{"panel":"M3","day":48,"Pelago":0.5,"Prym":0.3,"Cyano":0.7,"Crypto":1.7,"Diat":2.6,"Dino":93.0,"Chloro":1.2},
{"panel":"M3","day":50,"Pelago":0.5,"Prym":0.3,"Cyano":0.7,"Crypto":1.8,"Diat":2.5,"Dino":93.3,"Chloro":0.9},
{"panel":"M6","day":1,"Pelago":2.5,"Prym":1.7,"Cyano":6.0,"Crypto":8.1,"Diat":58.7,"Dino":15.8,"Chloro":7.2},
{"panel":"M6","day":2,"Pelago":2.5,"Prym":1.3,"Cyano":4.7,"Crypto":8.7,"Diat":60.6,"Dino":15.3,"Chloro":6.9},
{"panel":"M6","day":3,"Pelago":2.8,"Prym":1.7,"Cyano":2.7,"Crypto":8.0,"Diat":70.6,"Dino":9.2,"Chloro":5.0},
{"panel":"M6","day":4,"Pelago":1.5,"Prym":1.3,"Cyano":2.7,"Crypto":5.0,"Diat":78.2,"Dino":6.1,"Chloro":5.2},
{"panel":"M6","day":6,"Pelago":1.8,"Prym":1.4,"Cyano":5.0,"Crypto":7.7,"Diat":63.9,"Dino":13.8,"Chloro":6.4},
{"panel":"M6","day":8,"Pelago":1.9,"Prym":1.6,"Cyano":2.7,"Crypto":7.8,"Diat":46.9,"Dino":27.2,"Chloro":11.9},
{"panel":"M6","day":10,"Pelago":3.8,"Prym":1.2,"Cyano":0.8,"Crypto":7.1,"Diat":31.5,"Dino":19.2,"Chloro":36.4},
{"panel":"M6","day":12,"Pelago":5.5,"Prym":1.7,"Cyano":0.3,"Crypto":6.5,"Diat":32.8,"Dino":12.7,"Chloro":40.5},
{"panel":"M6","day":13,"Pelago":4.8,"Prym":1.4,"Cyano":0.3,"Crypto":7.3,"Diat":34.3,"Dino":13.6,"Chloro":38.3},
{"panel":"M6","day":14,"Pelago":5.5,"Prym":2.7,"Cyano":0.7,"Crypto":10.7,"Diat":36.2,"Dino":20.4,"Chloro":23.8},
{"panel":"M6","day":15,"Pelago":4.5,"Prym":5.4,"Cyano":1.6,"Crypto":17.5,"Diat":28.5,"Dino":33.2,"Chloro":9.3},
{"panel":"M6","day":16,"Pelago":2.5,"Prym":3.3,"Cyano":1.7,"Crypto":21.3,"Diat":20.3,"Dino":43.9,"Chloro":7.0},
{"panel":"M6","day":17,"Pelago":1.1,"Prym":2.1,"Cyano":0.6,"Crypto":23.2,"Diat":10.4,"Dino":55.4,"Chloro":7.2},
{"panel":"M6","day":18,"Pelago":0.8,"Prym":1.3,"Cyano":0.4,"Crypto":21.5,"Diat":7.0,"Dino":61.6,"Chloro":7.4},
{"panel":"M6","day":20,"Pelago":0.3,"Prym":0.5,"Cyano":0.3,"Crypto":10.1,"Diat":3.0,"Dino":78.4,"Chloro":7.4},
{"panel":"M6","day":22,"Pelago":0.3,"Prym":0.5,"Cyano":0.0,"Crypto":5.0,"Diat":1.7,"Dino":86.9,"Chloro":5.6},
{"panel":"M6","day":24,"Pelago":0.3,"Prym":0.5,"Cyano":0.0,"Crypto":2.4,"Diat":1.3,"Dino":90.9,"Chloro":4.6},
{"panel":"M6","day":26,"Pelago":0.3,"Prym":0.5,"Cyano":0.0,"Crypto":2.7,"Diat":1.3,"Dino":92.0,"Chloro":3.2},
{"panel":"M6","day":28,"Pelago":0.3,"Prym":0.5,"Cyano":0.0,"Crypto":3.7,"Diat":4.4,"Dino":87.4,"Chloro":3.7},
{"panel":"M6","day":30,"Pelago":0.3,"Prym":0.5,"Cyano":1.0,"Crypto":4.2,"Diat":6.6,"Dino":82.8,"Chloro":4.6},
{"panel":"M6","day":32,"Pelago":0.3,"Prym":0.5,"Cyano":0.3,"Crypto":3.4,"Diat":3.7,"Dino":86.2,"Chloro":5.6},
{"panel":"M6","day":34,"Pelago":0.3,"Prym":0.5,"Cyano":0.3,"Crypto":2.2,"Diat":6.4,"Dino":82.7,"Chloro":7.6},
{"panel":"M6","day":36,"Pelago":0.3,"Prym":0.8,"Cyano":1.0,"Crypto":5.1,"Diat":35.9,"Dino":50.0,"Chloro":6.9},
{"panel":"M6","day":38,"Pelago":0.3,"Prym":0.5,"Cyano":0.0,"Crypto":2.7,"Diat":6.2,"Dino":84.4,"Chloro":5.9},
{"panel":"M6","day":40,"Pelago":0.3,"Prym":0.5,"Cyano":0.3,"Crypto":3.1,"Diat":4.7,"Dino":86.3,"Chloro":4.8},
{"panel":"M6","day":42,"Pelago":0.3,"Prym":0.5,"Cyano":0.3,"Crypto":3.4,"Diat":4.0,"Dino":89.8,"Chloro":1.7},
{"panel":"M6","day":44,"Pelago":0.3,"Prym":0.5,"Cyano":0.3,"Crypto":4.9,"Diat":5.2,"Dino":87.1,"Chloro":1.7},
{"panel":"M6","day":46,"Pelago":0.3,"Prym":0.5,"Cyano":0.3,"Crypto":5.3,"Diat":3.8,"Dino":86.4,"Chloro":3.4},
{"panel":"M6","day":48,"Pelago":0.3,"Prym":0.5,"Cyano":0.3,"Crypto":4.7,"Diat":2.4,"Dino":86.6,"Chloro":5.2},
{"panel":"M6","day":50,"Pelago":0.3,"Prym":0.5,"Cyano":0.3,"Crypto":4.4,"Diat":2.4,"Dino":87.5,"Chloro":4.6},
{"panel":"Pacific","day":3,"Pelago":1.1,"Prym":1.4,"Cyano":7.0,"Crypto":7.7,"Diat":42.3,"Dino":29.2,"Chloro":11.3},
{"panel":"Pacific","day":4,"Pelago":0.8,"Prym":1.3,"Cyano":8.3,"Crypto":10.2,"Diat":62.4,"Dino":2.6,"Chloro":14.4},
{"panel":"Pacific","day":6,"Pelago":0.8,"Prym":1.7,"Cyano":7.2,"Crypto":13.1,"Diat":65.9,"Dino":0.4,"Chloro":10.9},
{"panel":"Pacific","day":8,"Pelago":0.8,"Prym":1.1,"Cyano":14.5,"Crypto":6.1,"Diat":46.1,"Dino":26.2,"Chloro":5.2},
{"panel":"Pacific","day":10,"Pelago":0.8,"Prym":1.0,"Cyano":2.7,"Crypto":4.0,"Diat":82.6,"Dino":8.2,"Chloro":0.7},
{"panel":"Pacific","day":12,"Pelago":0.5,"Prym":1.0,"Cyano":3.7,"Crypto":7.4,"Diat":56.5,"Dino":23.7,"Chloro":7.2},
{"panel":"Pacific","day":13,"Pelago":0.5,"Prym":4.0,"Cyano":3.5,"Crypto":6.6,"Diat":52.3,"Dino":26.7,"Chloro":6.4},
{"panel":"Pacific","day":14,"Pelago":1.0,"Prym":1.8,"Cyano":3.0,"Crypto":7.1,"Diat":66.8,"Dino":10.4,"Chloro":9.9},
{"panel":"Pacific","day":15,"Pelago":0.5,"Prym":1.6,"Cyano":2.7,"Crypto":7.1,"Diat":58.4,"Dino":16.4,"Chloro":13.3},
{"panel":"Pacific","day":16,"Pelago":0.5,"Prym":1.3,"Cyano":2.7,"Crypto":7.9,"Diat":54.2,"Dino":21.5,"Chloro":11.9},
{"panel":"Pacific","day":17,"Pelago":0.5,"Prym":2.1,"Cyano":1.2,"Crypto":9.8,"Diat":52.3,"Dino":16.1,"Chloro":18.0},
{"panel":"Pacific","day":18,"Pelago":0.5,"Prym":2.5,"Cyano":1.2,"Crypto":9.4,"Diat":66.2,"Dino":10.7,"Chloro":9.5},
{"panel":"Pacific","day":20,"Pelago":0.5,"Prym":2.5,"Cyano":1.4,"Crypto":9.4,"Diat":68.7,"Dino":8.9,"Chloro":8.6},
{"panel":"Pacific","day":22,"Pelago":0.8,"Prym":2.2,"Cyano":1.5,"Crypto":7.4,"Diat":53.1,"Dino":31.8,"Chloro":3.2},
{"panel":"Pacific","day":24,"Pelago":1.1,"Prym":2.7,"Cyano":1.4,"Crypto":8.4,"Diat":67.5,"Dino":12.7,"Chloro":6.2},
{"panel":"Pacific","day":26,"Pelago":1.5,"Prym":2.3,"Cyano":1.5,"Crypto":9.4,"Diat":62.1,"Dino":17.8,"Chloro":5.4},
{"panel":"Pacific","day":28,"Pelago":0.8,"Prym":1.7,"Cyano":0.7,"Crypto":9.0,"Diat":54.7,"Dino":29.5,"Chloro":3.6},
{"panel":"Pacific","day":30,"Pelago":0.5,"Prym":1.3,"Cyano":0.3,"Crypto":6.6,"Diat":26.0,"Dino":36.6,"Chloro":28.7},
{"panel":"Pacific","day":32,"Pelago":0.5,"Prym":10.4,"Cyano":0.0,"Crypto":27.5,"Diat":40.6,"Dino":13.4,"Chloro":7.6},
{"panel":"Pacific","day":34,"Pelago":0.5,"Prym":15.1,"Cyano":0.0,"Crypto":25.5,"Diat":40.0,"Dino":5.9,"Chloro":13.0},
{"panel":"Pacific","day":36,"Pelago":0.5,"Prym":2.0,"Cyano":0.0,"Crypto":55.0,"Diat":24.3,"Dino":5.2,"Chloro":13.0},
{"panel":"Pacific","day":38,"Pelago":0.5,"Prym":2.0,"Cyano":1.0,"Crypto":31.9,"Diat":43.9,"Dino":14.1,"Chloro":6.6},
{"panel":"Pacific","day":40,"Pelago":0.5,"Prym":2.0,"Cyano":1.0,"Crypto":10.1,"Diat":65.7,"Dino":14.1,"Chloro":6.6},
{"panel":"Pacific","day":42,"Pelago":0.5,"Prym":4.0,"Cyano":0.7,"Crypto":14.1,"Diat":60.4,"Dino":15.1,"Chloro":5.2},
{"panel":"Pacific","day":44,"Pelago":0.5,"Prym":1.0,"Cyano":0.0,"Crypto":31.9,"Diat":59.7,"Dino":3.2,"Chloro":3.7},
{"panel":"Pacific","day":46,"Pelago":0.5,"Prym":2.3,"Cyano":0.4,"Crypto":19.1,"Diat":66.8,"Dino":7.5,"Chloro":3.4},
{"panel":"Pacific","day":48,"Pelago":0.5,"Prym":2.5,"Cyano":0.5,"Crypto":5.4,"Diat":70.4,"Dino":16.8,"Chloro":3.9},
{"panel":"Pacific","day":50,"Pelago":0.5,"Prym":2.5,"Cyano":0.5,"Crypto":6.2,"Diat":72.6,"Dino":11.8,"Chloro":5.9}
]},
"data":{"name":"chl"},
"transform":[
{"fold":["Pelago","Prym","Cyano","Crypto","Diat","Dino","Chloro"],"as":["group","value"]},
{"lookup":"group","from":{"data":{"name":"groups"},"key":"group","fields":["rank"]}}
],
"resolve":{"scale":{"color":"shared"},"legend":{"color":"shared"}},
"spacing":-6,
"vconcat":[
{
"transform":[{"filter":"datum.panel === 'M1' || datum.panel === 'M4' || datum.panel === 'M7'"}],
"facet":{"column":{"field":"panel","type":"nominal","sort":["M1","M4","M7"],"title":null,"header":{"labels":false,"title":null}}},
"spacing":{"column":337},
"bounds":"flush",
"resolve":{"axis":{"x":"independent","y":"independent"}},
"spec":{"width":925,"height":806,"layer":[
{"mark":{"type":"area","stroke":"#b0b0b0","strokeWidth":8,"fillOpacity":1,"clip":true},
"encoding":{
"x":{"field":"day","type":"quantitative","scale":{"domain":[0,50],"nice":false,"zero":false},"axis":{"values":[0,10,20,30,40,50],"labels":false,"title":null}},
"y":{"field":"value","type":"quantitative","stack":"zero","scale":{"domain":[0,100],"nice":false},"axis":{"values":[0,12.5,25,37.5,50,62.5,75,87.5,100],"grid":true,"gridColor":"#e6e6e6","gridWidth":3,"labelExpr":"datum.value % 25 === 0 ? datum.label : ''","tickOpacity":{"condition":{"test":"datum.value % 25 !== 0","value":0},"value":1},"title":"Chl a (%)","labelPadding":41,"titlePadding":30}},
"color":{"field":"group","type":"nominal","scale":{"domain":["Chloro","Dino","Diat","Crypto","Cyano","Prym","Pelago"],"range":["#a00021","#e8764f","#fbd1b9","#f4f4f4","#c6dcea","#5799c7","#1a4f9b"]},
"legend":{"orient":"none","legendX":491,"legendY":183,"title":null,"symbolType":"M-1.44,-1.12H1.44V1.12H-1.44Z","symbolSize":2500,"symbolStrokeColor":"#b0b0b0","symbolStrokeWidth":9,"symbolOpacity":1,"labelFontSize":74,"labelFont":"Liberation Sans","labelColor":"#000000","labelOffset":45,"labelLimit":600,"rowPadding":-16,"padding":0}},
"order":{"field":"rank","type":"quantitative"}}},
{"transform":[{"filter":"datum.group === 'Chloro' && datum.day === 50 && datum.panel !== 'Pacific'"}],"mark":{"type":"rule","color":"#2a9641","strokeWidth":10,"strokeDash":[40,46]},"encoding":{"x":{"datum":11,"type":"quantitative"}}},
{"transform":[{"filter":"datum.group === 'Chloro' && datum.day === 50 && datum.panel !== 'Pacific'"}],"mark":{"type":"rule","color":"#2a9641","strokeWidth":10,"strokeDash":[40,46]},"encoding":{"x":{"datum":12,"type":"quantitative"}}},
{"transform":[{"filter":"datum.group === 'Chloro' && datum.day === 50 && datum.panel !== 'Pacific'"}],"mark":{"type":"text","align":"right","baseline":"middle","fontSize":70,"font":"Liberation Sans","color":"#000000"},"encoding":{"x":{"datum":49.1,"type":"quantitative"},"y":{"datum":94.5,"type":"quantitative"},"text":{"field":"panel","type":"nominal"}}}
]}
},
{
"transform":[{"filter":"datum.panel === 'M2' || datum.panel === 'M5' || datum.panel === 'M8'"}],
"facet":{"column":{"field":"panel","type":"nominal","sort":["M2","M5","M8"],"title":null,"header":{"labels":false,"title":null}}},
"spacing":{"column":337},
"bounds":"flush",
"resolve":{"axis":{"x":"independent","y":"independent"}},
"spec":{"width":925,"height":806,"layer":[
{"mark":{"type":"area","stroke":"#b0b0b0","strokeWidth":8,"fillOpacity":1,"clip":true},
"encoding":{
"x":{"field":"day","type":"quantitative","scale":{"domain":[0,50],"nice":false,"zero":false},"axis":{"values":[0,10,20,30,40,50],"labels":false,"title":null}},
"y":{"field":"value","type":"quantitative","stack":"zero","scale":{"domain":[0,100],"nice":false},"axis":{"values":[0,12.5,25,37.5,50,62.5,75,87.5,100],"grid":true,"gridColor":"#e6e6e6","gridWidth":3,"labelExpr":"datum.value % 25 === 0 ? datum.label : ''","tickOpacity":{"condition":{"test":"datum.value % 25 !== 0","value":0},"value":1},"title":"Chl a (%)","labelPadding":41,"titlePadding":30}},
"color":{"field":"group","type":"nominal","scale":{"domain":["Chloro","Dino","Diat","Crypto","Cyano","Prym","Pelago"],"range":["#a00021","#e8764f","#fbd1b9","#f4f4f4","#c6dcea","#5799c7","#1a4f9b"]},
"legend":{"orient":"none","legendX":491,"legendY":183,"title":null,"symbolType":"M-1.44,-1.12H1.44V1.12H-1.44Z","symbolSize":2500,"symbolStrokeColor":"#b0b0b0","symbolStrokeWidth":9,"symbolOpacity":1,"labelFontSize":74,"labelFont":"Liberation Sans","labelColor":"#000000","labelOffset":45,"labelLimit":600,"rowPadding":-16,"padding":0}},
"order":{"field":"rank","type":"quantitative"}}},
{"transform":[{"filter":"datum.group === 'Chloro' && datum.day === 50 && datum.panel !== 'Pacific'"}],"mark":{"type":"rule","color":"#2a9641","strokeWidth":10,"strokeDash":[40,46]},"encoding":{"x":{"datum":11,"type":"quantitative"}}},
{"transform":[{"filter":"datum.group === 'Chloro' && datum.day === 50 && datum.panel !== 'Pacific'"}],"mark":{"type":"rule","color":"#2a9641","strokeWidth":10,"strokeDash":[40,46]},"encoding":{"x":{"datum":12,"type":"quantitative"}}},
{"transform":[{"filter":"datum.group === 'Chloro' && datum.day === 50 && datum.panel !== 'Pacific'"}],"mark":{"type":"text","align":"right","baseline":"middle","fontSize":70,"font":"Liberation Sans","color":"#000000"},"encoding":{"x":{"datum":49.1,"type":"quantitative"},"y":{"datum":94.5,"type":"quantitative"},"text":{"field":"panel","type":"nominal"}}}
]}
},
{
"transform":[{"filter":"datum.panel === 'M3' || datum.panel === 'M6' || datum.panel === 'Pacific'"}],
"facet":{"column":{"field":"panel","type":"nominal","sort":["M3","M6","Pacific"],"title":null,"header":{"labels":false,"title":null}}},
"spacing":{"column":337},
"bounds":"flush",
"resolve":{"axis":{"x":"independent","y":"independent"}},
"spec":{"width":925,"height":806,"layer":[
{"mark":{"type":"area","stroke":"#b0b0b0","strokeWidth":8,"fillOpacity":1,"clip":true},
"encoding":{
"x":{"field":"day","type":"quantitative","scale":{"domain":[0,50],"nice":false,"zero":false},"axis":{"values":[0,10,20,30,40,50],"title":"Day of experiment","labelPadding":40,"titlePadding":18}},
"y":{"field":"value","type":"quantitative","stack":"zero","scale":{"domain":[0,100],"nice":false},"axis":{"values":[0,12.5,25,37.5,50,62.5,75,87.5,100],"grid":true,"gridColor":"#e6e6e6","gridWidth":3,"labelExpr":"datum.value % 25 === 0 ? datum.label : ''","tickOpacity":{"condition":{"test":"datum.value % 25 !== 0","value":0},"value":1},"title":"Chl a (%)","labelPadding":41,"titlePadding":30}},
"color":{"field":"group","type":"nominal","scale":{"domain":["Chloro","Dino","Diat","Crypto","Cyano","Prym","Pelago"],"range":["#a00021","#e8764f","#fbd1b9","#f4f4f4","#c6dcea","#5799c7","#1a4f9b"]},
"legend":{"orient":"none","legendX":491,"legendY":183,"title":null,"symbolType":"M-1.44,-1.12H1.44V1.12H-1.44Z","symbolSize":2500,"symbolStrokeColor":"#b0b0b0","symbolStrokeWidth":9,"symbolOpacity":1,"labelFontSize":74,"labelFont":"Liberation Sans","labelColor":"#000000","labelOffset":45,"labelLimit":600,"rowPadding":-16,"padding":0}},
"order":{"field":"rank","type":"quantitative"}}},
{"transform":[{"filter":"datum.group === 'Chloro' && datum.day === 50 && datum.panel !== 'Pacific'"}],"mark":{"type":"rule","color":"#2a9641","strokeWidth":10,"strokeDash":[40,46]},"encoding":{"x":{"datum":11,"type":"quantitative"}}},
{"transform":[{"filter":"datum.group === 'Chloro' && datum.day === 50 && datum.panel !== 'Pacific'"}],"mark":{"type":"rule","color":"#2a9641","strokeWidth":10,"strokeDash":[40,46]},"encoding":{"x":{"datum":12,"type":"quantitative"}}},
{"transform":[{"filter":"datum.group === 'Chloro' && datum.day === 50 && datum.panel !== 'Pacific'"}],"mark":{"type":"text","align":"right","baseline":"middle","fontSize":70,"font":"Liberation Sans","color":"#000000"},"encoding":{"x":{"datum":49.1,"type":"quantitative"},"y":{"datum":94.5,"type":"quantitative"},"text":{"field":"panel","type":"nominal"}}},
{"transform":[{"filter":"datum.group === 'Chloro' && datum.day === 50 && datum.panel === 'Pacific'"}],"mark":{"type":"text","align":"right","baseline":"middle","fontSize":70,"font":"Liberation Sans","color":"#000000"},"encoding":{"x":{"datum":47.1,"type":"quantitative"},"y":{"datum":94.5,"type":"quantitative"},"text":{"field":"panel","type":"nominal"}}}
]}
}
]
}
